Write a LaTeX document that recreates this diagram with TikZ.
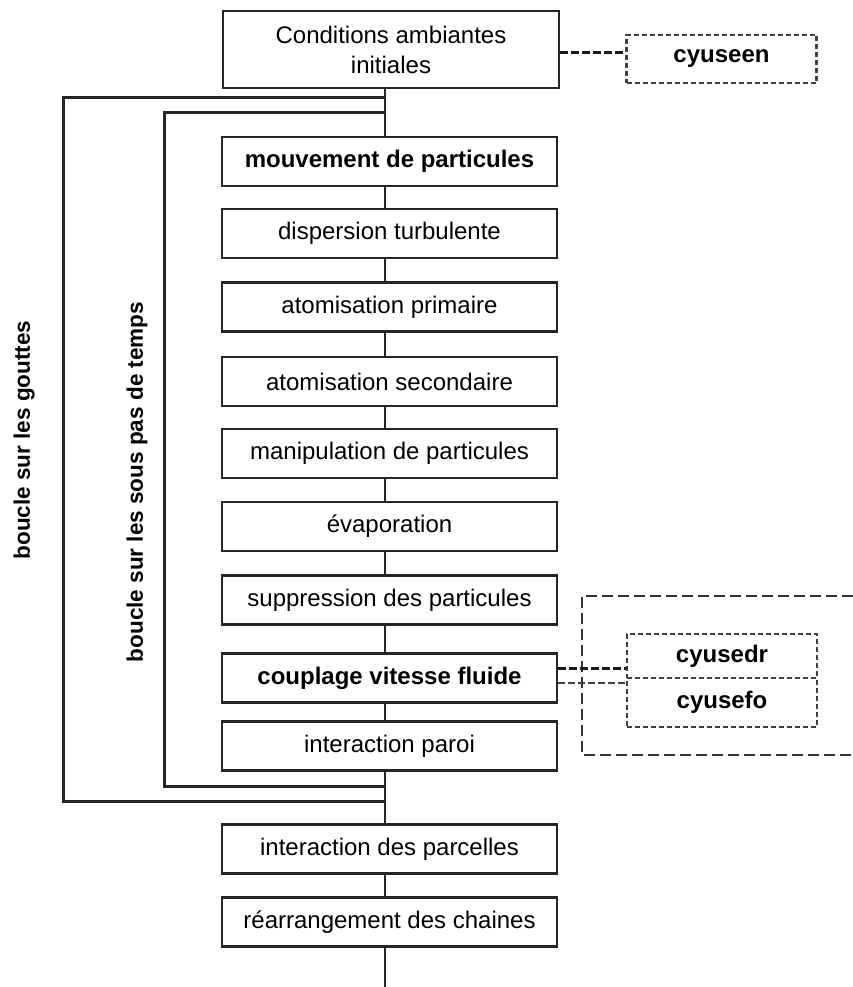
\documentclass[tikz,border=0pt]{standalone}
\usepackage{fontspec}
\setmainfont{Liberation Sans}
\begin{document}
\begin{tikzpicture}[x=1pt,y=-1pt,
  stepbox/.style={draw=black!85, line width=2.3pt, minimum width=335pt, minimum height=49pt, inner sep=0pt, font=\fontsize{24}{30}\selectfont, align=center},
  boldbox/.style={stepbox, font=\fontsize{24}{30}\selectfont\bfseries},
  flow/.style={draw=black!85, line width=2.6pt},
  loopline/.style={draw=black!85, line width=3pt},
  dashbox/.style={draw=black!75, line width=2.1pt, dash pattern=on 5pt off 3pt, minimum width=190pt, inner sep=0pt, font=\fontsize{24}{30}\selectfont\bfseries},
  dashlink/.style={draw=black!90, line width=3pt, dash pattern=on 8pt off 3pt},
  thinlink/.style={draw=black!75, line width=2pt, dash pattern=on 7pt off 3pt},
  bigdash/.style={draw=black!80, line width=2.5pt, dash pattern=on 11pt off 5pt},
  looplabel/.style={font=\fontsize{22.5}{26}\selectfont\bfseries, rotate=90}
]
\useasboundingbox (0,0) rectangle (853,987);

% main column
\node[stepbox, minimum width=336pt, minimum height=77pt] (cond) at (391,49.5) {Conditions ambiantes\\[-0pt]initiales};
\node[boldbox] (mouv) at (389.5,161.5) {mouvement de particules};
\node[stepbox] (disp) at (389.5,233.5) {dispersion turbulente};
\node[stepbox] (prim) at (389.5,307) {atomisation primaire};
\node[stepbox] (sec) at (389.5,381.5) {atomisation secondaire};
\node[stepbox] (manip) at (389.5,453.5) {manipulation de particules};
\node[stepbox] (evap) at (389.5,526.5) {évaporation};
\node[stepbox] (supp) at (389.5,600) {suppression des particules};
\node[boldbox] (coup) at (389.5,678) {couplage vitesse fluide};
\node[stepbox] (paroi) at (389.5,746) {interaction paroi};
\node[stepbox] (parc) at (389.5,849) {interaction des parcelles};
\node[stepbox] (rear) at (389.5,922) {réarrangement des chaines};

\coordinate (axis) at (385,0);
\coordinate (end) at (385,987);

% connectors along the column
\foreach \a/\b in {cond/mouv, mouv/disp, disp/prim, prim/sec, sec/manip, manip/evap, evap/supp, supp/coup, coup/paroi, paroi/parc, parc/rear}
  \draw[flow] (\a.south -| axis) -- (\b.north -| axis);
\draw[flow] (rear.south -| axis) -- (end);

% loops
\coordinate (oTop) at (385,98);
\coordinate (oBot) at (385,801);
\coordinate (iTop) at (385,113);
\coordinate (iBot) at (385,786);
\draw[loopline] (oTop) -- (63,98) -- (63,801) -- (oBot);
\draw[loopline] (iTop) -- (164,113) -- (164,786) -- (iBot);

\node[looplabel] (lg) at (24,440) {boucle sur les gouttes};
\node[looplabel] (ls) at (137,482) {boucle sur les sous pas de temps};

% cyuseen
\node[dashbox, minimum height=48pt] (seen) at (721.5,59) {cyuseen};
\draw[dashlink] (cond.east |- 0,53) -- (seen.west |- 0,53);

% group box (open on the right)
\draw[bigdash] (853,596) -- (582,596) -- (582,755) -- (853,755);

\node[dashbox, minimum height=44pt] (dr) at (722,656) {cyusedr};
\node[dashbox, minimum height=49pt] (fo) at (722,702.5) {cyusefo};
\draw[dashlink] (coup.east |- 0,668) -- (dr.west |- 0,668);
\draw[thinlink] (coup.east |- 0,683) -- (fo.west |- 0,683);
\end{tikzpicture}
\end{document}
